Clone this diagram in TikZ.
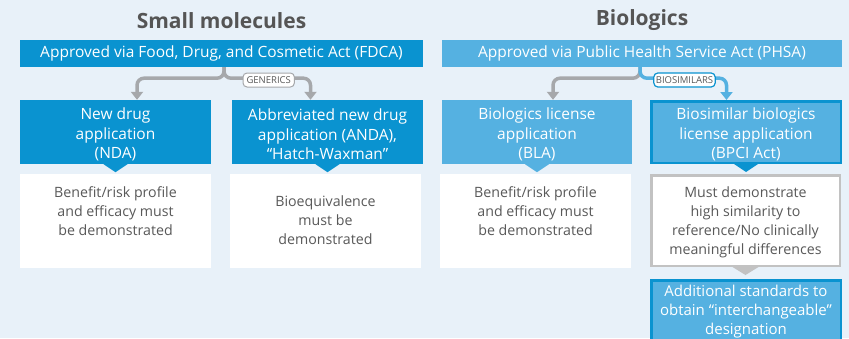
\documentclass[tikz,border=0pt]{standalone}
\usepackage{fontspec}
\setmainfont{Open Sans}
\usetikzlibrary{arrows.meta}

\definecolor{pagebg}{HTML}{E8F1F9}
\definecolor{dblue}{HTML}{0A93D0}
\definecolor{lblue}{HTML}{55B1E1}
\definecolor{txtgray}{HTML}{595959}
\definecolor{titlegray}{HTML}{555555}
\definecolor{conngray}{HTML}{A6A8AB}
\definecolor{boxgray}{HTML}{C2C2C2}

\tikzset{
  heading/.style={font=\fontsize{21}{24}\selectfont\bfseries, text=titlegray, inner sep=0pt},
  actbox/.style={rectangle, inner sep=0pt, minimum height=27pt, text=white,
    font=\fontsize{15.5}{19}\selectfont},
  appbox/.style={rectangle, inner sep=0pt, minimum height=64pt, minimum width=191pt},
  apptext/.style={text=white, align=center, inner sep=0pt,
    font=\fontsize{15.5}{19.5}\selectfont},
  reqbox/.style={rectangle, fill=white, inner sep=0pt, minimum width=191pt,
    minimum height=94pt},
  reqtext/.style={text=txtgray, align=center, inner sep=0pt,
    font=\fontsize{14.2}{19}\selectfont},
  conn/.style={line width=3.5pt, rounded corners=7pt,
    -{Triangle[width=12pt,length=8pt]}},
  tag/.style={rectangle, rounded corners=4pt, fill=white, line width=1pt,
    inner xsep=3.5pt, inner ysep=0pt, minimum height=14pt, text=txtgray,
    font=\fontsize{9.5}{10}\selectfont}
}

\begin{document}
\begin{tikzpicture}[x=1pt,y=-1pt]
  \fill[pagebg] (0,0) rectangle (849,338);
  \useasboundingbox (0,0) rectangle (849,338);
  \clip (0,0) rectangle (849,338);

  % column headings
  \node[heading] (tsmall) at (221.5,20.5) {Small molecules};
  \node[heading] (tbio) at (642,20.5) {Biologics};

  % ---------- small molecules ----------
  \node[actbox, fill=dblue, minimum width=403pt] (fdca) at (221.5,53.5)
    {Approved via Food, Drug, and Cosmetic Act (FDCA)};

  \node[appbox, fill=dblue] (nda) at (115.5,132) {};
  \node[apptext] (ndatxt) at ([yshift=-2.5pt]nda.center) {New drug\\application\\(NDA)};
  \node[appbox, fill=dblue] (anda) at (327.5,132) {};
  \node[apptext] (andatxt) at ([yshift=-2.5pt]anda.center)
    {Abbreviated new drug\\application (ANDA),\\“Hatch-Waxman”};

  \fill[dblue] ([xshift=-12pt]nda.south) -- ([xshift=12pt]nda.south) -- ([yshift=-8pt]nda.south) -- cycle;
  \fill[dblue] ([xshift=-12pt]anda.south) -- ([xshift=12pt]anda.south) -- ([yshift=-8pt]anda.south) -- cycle;

  \node[reqbox] (ndareq) at (115.5,221) {};
  \node[reqtext, anchor=north] (ndareqtxt) at ([yshift=-13pt]ndareq.north)
    {Benefit/risk profile\\and efficacy must\\be demonstrated};
  \node[reqbox] (andareq) at (325.5,221) {};
  \node[reqtext] (andareqtxt) at ([yshift=1pt]andareq.center) {Bioequivalence\\must be\\demonstrated};

  % brace-shaped branches from the FDCA box
  \draw[conn, draw=conngray] ([xshift=2.5pt]fdca.south) -- ++(0,11) -| ([xshift=21.5pt]nda.north);
  \draw[conn, draw=conngray] ([xshift=2.5pt]fdca.south) -- ++(0,11) -| ([xshift=-17pt]anda.north);
  \node[tag, draw=conngray] (generics) at (268.7,80) {GENERICS};

  % ---------- biologics ----------
  \node[actbox, fill=lblue, minimum width=400pt] (phsa) at (642,53.5)
    {Approved via Public Health Service Act (PHSA)};

  \node[appbox, fill=lblue, minimum width=190pt] (bla) at (537,132) {};
  \node[apptext] (blatxt) at ([yshift=-2.5pt]bla.center)
    {Biologics license\\application\\(BLA)};
  \node[appbox, fill=lblue, draw=dblue, line width=2.5pt,
        minimum width=189.5pt, minimum height=61.5pt] (bpci) at (746,132) {};
  \node[apptext] (bpcitxt) at ([yshift=-2.5pt]bpci.center)
    {Biosimilar biologics\\license application\\(BPCI Act)};

  \fill[lblue] ([xshift=-12pt]bla.south) -- ([xshift=12pt]bla.south) -- ([yshift=-8pt]bla.south) -- cycle;
  \fill[dblue] ([xshift=-12pt]bpci.south) -- ([xshift=12pt]bpci.south) -- ([yshift=-8pt]bpci.south) -- cycle;

  \node[reqbox] (blareq) at (535.5,221) {};
  \node[reqtext, anchor=north] (blareqtxt) at ([yshift=-13pt]blareq.north)
    {Benefit/risk profile\\and efficacy must\\be demonstrated};

  \node[reqbox, draw=boxgray, line width=2.5pt, minimum width=188.5pt,
        minimum height=90.5pt] (simreq) at (745.5,220.5) {};
  \node[reqtext] (simreqtxt) at ([yshift=-2pt]simreq.center)
    {Must demonstrate\\high similarity to\\reference/No clinically\\meaningful differences};
  \fill[boxgray] ([xshift=-13pt]simreq.south) -- ([xshift=13pt]simreq.south) -- ([yshift=-8pt]simreq.south) -- cycle;

  \node[rectangle, fill=lblue, draw=dblue, line width=2.5pt, anchor=north,
        minimum width=189.5pt, minimum height=80pt] (inter) at (746,279.25) {};
  \node[reqtext, text=white, font=\fontsize{15}{19}\selectfont, anchor=north] (intertxt)
    at ([yshift=-6pt]inter.north)
    {Additional standards to\\obtain “interchangeable”\\designation};

  % branches from the PHSA box
  \draw[conn, draw=conngray] ([xshift=-2pt]phsa.south) -- ++(0,11) -| ([xshift=16pt]bla.north);
  \draw[conn, draw=lblue] ([xshift=-2pt]phsa.south) -- ++(0,11) -| ([xshift=-19.5pt]bpci.north);
  \node[tag, draw=dblue, line width=1.2pt, inner xsep=2pt] (biosim) at (684.5,80) {BIOSIMILARS};
\end{tikzpicture}
\end{document}
